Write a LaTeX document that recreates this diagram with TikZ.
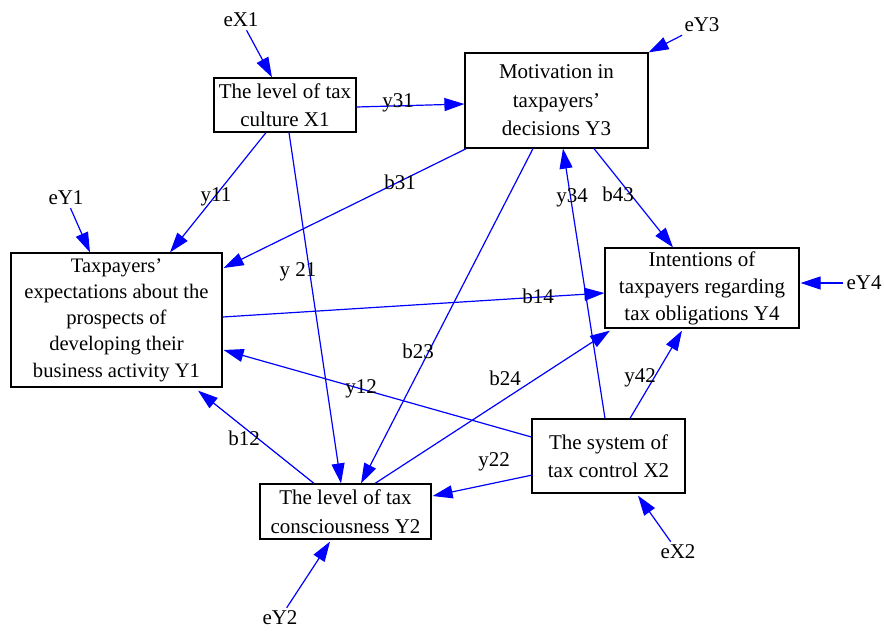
\documentclass[tikz,border=0pt]{standalone}
\usepackage{fontspec}
\setmainfont{Liberation Serif}
\usetikzlibrary{arrows.meta,calc}
\begin{document}
\begin{tikzpicture}[x=1pt,y=-1pt,
  box/.style={draw=black,line width=1.2pt,align=center,inner sep=0pt,font=\fontsize{21}{28.5}\selectfont},
  lbl/.style={inner sep=1pt,font=\fontsize{21}{25.5}\selectfont},
  err/.style={inner sep=3pt,font=\fontsize{21}{25.5}\selectfont},
  edge/.style={draw={rgb,255:red,0;green,0;blue,255},line width=1.2pt,-{Triangle[length=20pt,width=13pt]}}]
\useasboundingbox (0,0) rectangle (884,633);
\fill[white] (0,0) rectangle (884,633);
% boxes
\node[box,minimum width=142pt,minimum height=54pt] (X1) at (285,105) {The level of tax\\culture X1};
\node[box,minimum width=183pt,minimum height=95pt] (Y3) at (556.5,100.5) {Motivation in\\taxpayers’\\decisions Y3};
\node[box,minimum width=211pt,minimum height=134pt,font=\fontsize{20.6}{26.2}\selectfont] (Y1) at (116.5,320) {Taxpayers’\\expectations about the\\prospects of\\developing their\\business activity Y1};
\node[box,minimum width=194pt,minimum height=80pt,font=\fontsize{21}{27}\selectfont] (Y4) at (702,288) {Intentions of\\taxpayers regarding\\tax obligations Y4};
\node[box,minimum width=171pt,minimum height=55pt] (Y2) at (345.5,511.5) {The level of tax\\consciousness Y2};
\node[box,minimum width=153pt,minimum height=74pt] (X2) at (608.5,456) {The system of\\tax control X2};
% error terms
\node[err] (eX1) at (241,20) {eX1};
\node[err] (eY3) at (702,25) {eY3};
\node[err] (eY1) at (66,198) {eY1};
\node[err] (eY4) at (864,283) {eY4};
\node[err] (eX2) at (678,552) {eX2};
\node[err] (eY2) at (280,618) {eY2};
% error arrows
\draw[edge] (eX1) -- ($(X1.north)+(-13,0)$);
\draw[edge] (eY3) -- (Y3.north east);
\draw[edge] (eY1) -- ($(Y1.north)+(-26.5,0)$);
\draw[edge] (eY4) -- ($(Y4.east)+(1,-5)$);
\draw[edge] (eX2) -- ($(X2.south)+(29.5,2)$);
\draw[edge] (eY2) -- ($(Y2.south)+(-15.5,2)$);
% paths
\draw[edge] ($(X1.east)+(0,2)$) -- ($(Y3.west)+(0,3.5)$);
\draw[edge] ($(X1.south)+(-19,0)$) -- ($(Y1.north)+(53.5,0)$);
\draw[edge] ($(X1.south)+(4,0)$) -- ($(Y2.north)+(-4.5,0)$);
\draw[edge] ($(Y3.south west)+(2,0)$) -- ($(Y1.east)+(1,-52)$);
\draw[edge] ($(Y3.south)+(-23.5,0)$) -- ($(Y2.north)+(15.5,0)$);
\draw[edge] ($(Y3.south)+(37.5,0)$) -- ($(Y4.north)+(-29,0)$);
\draw[edge] ($(Y1.east)+(0,-3)$) -- ($(Y4.west)+(0,5)$);
\draw[edge] ($(X2.west)+(0,-19)$) -- ($(Y1.east)+(1,30)$);
\draw[edge] ($(Y2.north)+(-31.5,0)$) -- ($(Y1.south)+(81.5,3)$);
\draw[edge] ($(Y2.north)+(29.5,0)$) -- ($(Y4.south)+(-92,2)$);
\draw[edge] ($(X2.north)+(-3.5,0)$) -- ($(Y3.south)+(6.5,0)$);
\draw[edge] ($(X2.north)+(21.5,0)$) -- ($(Y4.south)+(-20,2)$);
\draw[edge] ($(X2.west)+(1,19)$) -- ($(Y2.east)+(1,-15.5)$);
% labels
\node[lbl] (ly31) at (398,103) {y31};
\node[lbl] (ly11) at (216,197) {y11};
\node[lbl] (ly21) at (298,272) {y 21};
\node[lbl] (lb31) at (400,182) {b31};
\node[lbl] (lb43) at (618,194) {b43};
\node[lbl] (ly34) at (572,198) {y34};
\node[lbl] (lb14) at (538,296) {b14};
\node[lbl] (lb23) at (418,351) {b23};
\node[lbl] (lb24) at (505,378) {b24};
\node[lbl] (ly42) at (640,378) {y42};
\node[lbl] (ly12) at (361,389) {y12};
\node[lbl] (lb12) at (244,438) {b12};
\node[lbl] (ly22) at (494,462) {y22};
\end{tikzpicture}
\end{document}
